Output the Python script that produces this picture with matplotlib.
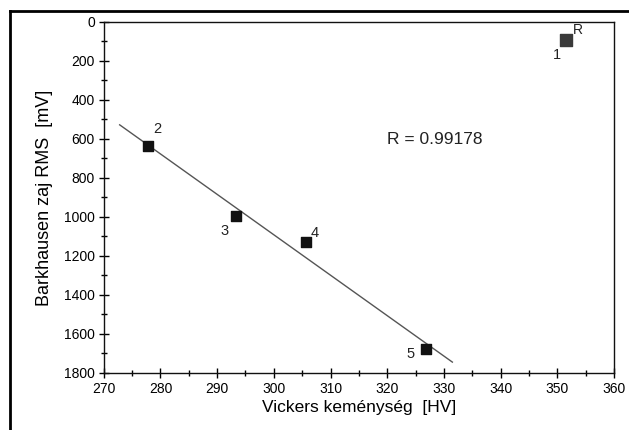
import numpy as np
import matplotlib
matplotlib.use("Agg")
import matplotlib.pyplot as plt
from matplotlib.ticker import MultipleLocator
from matplotlib.lines import Line2D

# Data
hardness_hv = [351.6, 277.8, 293.3, 305.6, 326.8]
rms_mv = [92, 637, 995, 1127, 1679]
point_labels = ["1", "2", "3", "4", "5"]
fit_hv_range = [272.8, 331.5]
r_text = "R = 0.99178"

plt.rcParams['font.family'] = ['Liberation Sans', 'DejaVu Sans']

fig = plt.figure(figsize=(6.29, 4.30), dpi=100)
ax = fig.add_axes([0.165, 0.1326, 0.811, 0.8164])

# regression line through points 2-5
coef = np.polyfit(hardness_hv[1:], rms_mv[1:], 1)
fx = np.array(fit_hv_range)
ax.plot(fx, np.polyval(coef, fx), color='#555555', lw=1.0, zorder=2)

# markers
ax.scatter(hardness_hv[1:], rms_mv[1:], marker='s', s=55, color='#111111', zorder=3)
ax.scatter(hardness_hv[:1], rms_mv[:1], marker='s', s=70, color='#3a3a3a', zorder=3)

# point labels
lab_off = {"1": (-4, -6, 'right', 'top'), "2": (4, 7, 'left', 'bottom'),
           "3": (-5, -6, 'right', 'top'), "4": (4, 1, 'left', 'bottom'),
           "5": (-8, 1.5, 'right', 'top')}
for x, y, t in zip(hardness_hv, rms_mv, point_labels):
    dx, dy, ha, va = lab_off[t]
    ax.annotate(t, (x, y), xytext=(dx, dy), textcoords='offset points',
                ha=ha, va=va, fontsize=10.5, color='#222222')
ax.annotate("R", (hardness_hv[0], rms_mv[0]), xytext=(5, 2), textcoords='offset points',
            ha='left', va='bottom', fontsize=10, color='#222222')

ax.text(320, 605, r_text, fontsize=12.5, ha='left', va='center', color='#222222')

ax.set_xlim(270, 360)
ax.set_ylim(1800, 0)
ax.xaxis.set_major_locator(MultipleLocator(10))
ax.xaxis.set_minor_locator(MultipleLocator(5))
ax.yaxis.set_major_locator(MultipleLocator(200))
ax.yaxis.set_minor_locator(MultipleLocator(100))
ax.tick_params(which='major', direction='inout', length=7, width=1, labelsize=10, pad=3)
ax.tick_params(which='minor', direction='inout', length=5, width=1)
for s in ax.spines.values():
    s.set_linewidth(1.0)
    s.set_color('#111111')

ax.set_xlabel("Vickers keménység  [HV]", fontsize=12.5, labelpad=3)
ax.set_ylabel("Barkhausen zaj RMS  [mV]", fontsize=13, labelpad=8)

# outer frame (top and left edges)
fig.add_artist(Line2D([10/629, 1.0], [1 - 11/430, 1 - 11/430], transform=fig.transFigure,
                      color='black', lw=2.0))
fig.add_artist(Line2D([10/629, 10/629], [0, 1 - 11/430], transform=fig.transFigure,
                      color='black', lw=2.0))

fig.savefig("out.png", dpi=100)
